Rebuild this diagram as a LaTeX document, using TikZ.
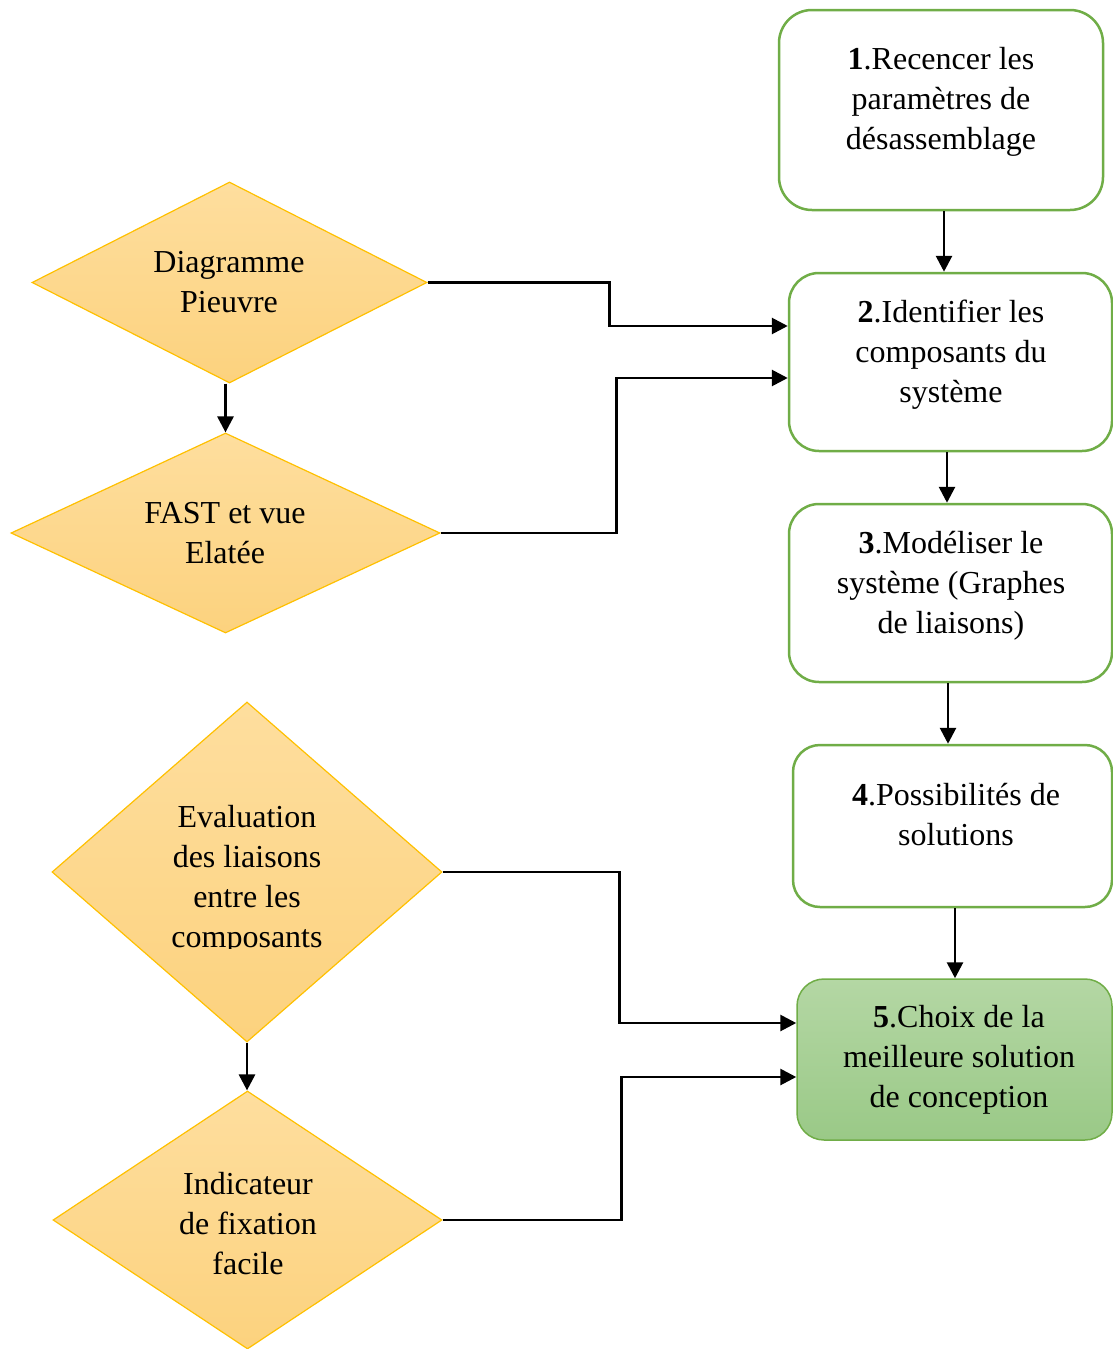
\documentclass[tikz,border=0pt]{standalone}
\usepackage{fontspec}
\setmainfont{Liberation Serif}
\usetikzlibrary{shapes.geometric,arrows.meta,calc}
\definecolor{boxgreen}{RGB}{112,173,71}
\definecolor{dtop}{RGB}{254,222,158}
\definecolor{dbot}{RGB}{252,210,126}
\definecolor{dline}{RGB}{255,192,0}
\definecolor{gtop}{RGB}{180,215,164}
\definecolor{gbot}{RGB}{154,201,135}
\tikzset{
  stepbox/.style={draw=boxgreen, line width=2.5pt, fill=white, rectangle, inner sep=0pt},
  finalbox/.style={draw=boxgreen, line width=1.5pt, rectangle, inner sep=0pt, top color=gtop, bottom color=gbot},
  decision/.style={diamond, draw=dline, line width=1.2pt, inner sep=0pt, top color=dtop, bottom color=dbot},
  lbl/.style={align=center, inner sep=0pt, font=\fontsize{32}{40}\selectfont},
  conn/.style={draw=black, line width=2.8pt, -{Triangle[length=16pt,width=16pt]}},
}
\begin{document}
\begin{tikzpicture}[x=1pt,y=-1pt]
\useasboundingbox (0,0) rectangle (1113,1349);
% boxes
\node[stepbox, rounded corners=33pt, minimum width=324pt, minimum height=200pt] (b1) at (941,110) {};
\node[stepbox, rounded corners=30pt, minimum width=323pt, minimum height=178pt] (b2) at (950.5,362) {};
\node[stepbox, rounded corners=30pt, minimum width=323pt, minimum height=178pt] (b3) at (950.5,593) {};
\node[stepbox, rounded corners=27pt, minimum width=319pt, minimum height=162pt] (b4) at (952.5,826) {};
\node[finalbox, rounded corners=27pt, minimum width=315pt, minimum height=161pt] (b5) at (954.5,1059.5) {};
\node[lbl] (t1) at (941,102) {\textbf{1}.Recencer les\\paramètres de\\désassemblage};
\node[lbl] (t2) at (951,355) {\textbf{2}.Identifier les\\composants du\\système};
\node[lbl] (t3) at (951,586) {\textbf{3}.Modéliser le\\système (Graphes\\de liaisons)};
\node[lbl] (t4) at (956,815) {\textbf{4}.Possibilités de\\solutions};
\node[lbl] (t5) at (959,1060) {\textbf{5}.Choix de la\\meilleure solution\\de conception};
% diamonds
\node[decision, minimum width=395pt, minimum height=201pt] (d1) at (229.5,282.5) {};
\node[decision, minimum width=429pt, minimum height=200pt] (d2) at (225.5,533) {};
\node[decision, minimum width=390pt, minimum height=340pt] (d3) at (247,872) {};
\node[decision, minimum width=389pt, minimum height=258pt] (d4) at (247.5,1220) {};
\node[lbl] (u1) at (229,282) {Diagramme\\Pieuvre};
\node[lbl] (u2) at (225,533) {FAST et vue\\Elatée};
\begin{scope}
\clip (100,780) rectangle (400,948);
\node[lbl] (u3) at (247,880) {Evaluation\\des liaisons\\entre les\\composants};
\end{scope}
\node[lbl] (u4) at (248,1224) {Indicateur\\de fixation\\facile};
% vertical connectors
\draw[conn] ([xshift=3pt]b1.south) -- ([xshift=3pt]b1.south |- b2.north);
\draw[conn] ([xshift=-3.5pt]b2.south) -- ([xshift=-3.5pt]b2.south |- b3.north);
\draw[conn] ([xshift=-2.5pt]b3.south) -- ([xshift=-2.5pt]b3.south |- b4.north);
\draw[conn] ([xshift=2.5pt]b4.south) -- ([xshift=2.5pt]b4.south |- b5.north);
\draw[conn] (d1.south -| d2.north) -- (d2.north);
\draw[conn] (d3.south) -- (d3.south |- d4.north);
% elbow connectors
\draw[conn] (d1.east) -- ++(182,0) |- ([yshift=36pt]b2.west);
\draw[conn] (d2.east) -- ++(176,0) |- ([yshift=-16pt]b2.west);
\draw[conn] (d3.east) -- ++(177,0) |- ([yshift=36.5pt]b5.west);
\draw[conn] (d4.east) -- ++(179,0) |- ([yshift=-17.5pt]b5.west);
\end{tikzpicture}
\end{document}
